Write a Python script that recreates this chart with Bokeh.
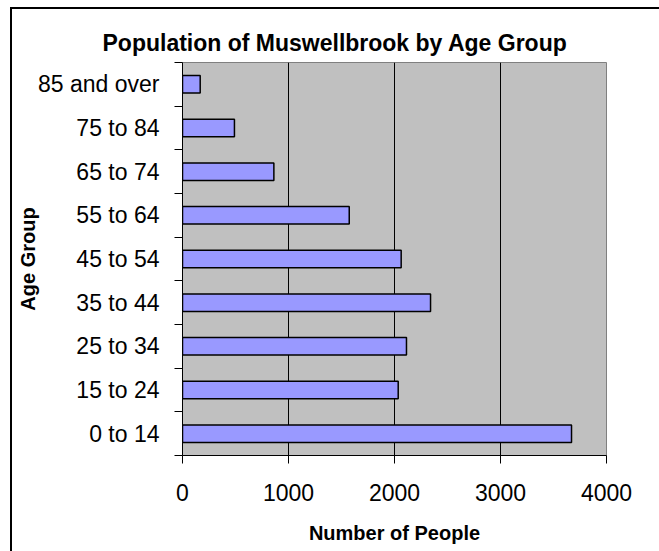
from bokeh.plotting import figure
from bokeh.models import FixedTicker, Range1d, ColumnDataSource
from bokeh.embed import file_html
from bokeh.resources import INLINE

# ---- data ----
age_groups = ["0 to 14", "15 to 24", "25 to 34", "35 to 44", "45 to 54",
              "55 to 64", "65 to 74", "75 to 84", "85 and over"]
people = [3670, 2035, 2113, 2340, 2063, 1573, 862, 490, 167]
x_ticks = [0, 1000, 2000, 3000, 4000]
title_text = "Population of Muswellbrook by Age Group"
x_title = "Number of People"
y_title = "Age Group"

FONT = "Liberation Sans"

centers = [i + 0.5 for i in range(len(age_groups))]
bounds = [float(i) for i in range(len(age_groups) + 1)]
src = ColumnDataSource(dict(y=centers, right=people, group=age_groups))

p = figure(width=659, height=551,
           x_range=Range1d(0, 4000), y_range=Range1d(0, len(age_groups)),
           output_backend="svg", toolbar_location=None,
           min_border_left=182, min_border_right=53,
           min_border_top=62, min_border_bottom=96)

p.background_fill_color = "#C0C0C0"
p.border_fill_color = "white"
p.border_fill_alpha = 0
p.outline_line_color = "#808080"
p.outline_line_width = 1

# outer chart border: left and top edges, drawn as CSS background lines
p.styles = {
    "background-color": "white",
    "background-image": "linear-gradient(black, black), linear-gradient(black, black)",
    "background-size": "2px 100%, 100% 2px",
    "background-position": "10px 7px, 10px 7px",
    "background-repeat": "no-repeat",
}

p.hbar(y="y", left=0, right="right", height=0.4, source=src,
       fill_color="#9999FF", line_color="black", line_width=1.5)

# title
p.title.text = title_text
p.title.align = "left"
p.title.offset = -80
p.title.text_font = FONT
p.title.text_font_style = "bold"
p.title.text_font_size = "23px"
p.title.text_color = "black"
p.title.standoff = 13

# x axis
xa = p.xaxis[0]
xa.ticker = FixedTicker(ticks=x_ticks)
xa.axis_line_color = "black"
xa.major_tick_line_color = "black"
xa.major_tick_out = 8
xa.major_tick_in = 0
xa.minor_tick_line_color = None
xa.major_label_text_font = FONT
xa.major_label_text_font_size = "23px"
xa.major_label_text_color = "black"
xa.major_label_standoff = 20
xa.axis_label = x_title
xa.axis_label_text_font = FONT
xa.axis_label_text_font_style = "bold"
xa.axis_label_text_font_size = "20px"
xa.axis_label_text_color = "black"
xa.axis_label_standoff = 18

# y axis: labels at category centres, ticks at category boundaries
ya = p.yaxis[0]
ya.ticker = FixedTicker(ticks=centers, minor_ticks=bounds)
ya.major_label_overrides = {c: g for c, g in zip(centers, age_groups)}
ya.axis_line_color = "black"
ya.major_tick_line_color = None
ya.major_tick_out = 0
ya.major_tick_in = 0
ya.minor_tick_line_color = "black"
ya.minor_tick_out = 8
ya.minor_tick_in = 0
ya.major_label_text_font = FONT
ya.major_label_text_font_size = "23px"
ya.major_label_text_color = "black"
ya.major_label_standoff = 15
ya.axis_label = y_title
ya.axis_label_text_font = FONT
ya.axis_label_text_font_style = "bold"
ya.axis_label_text_font_size = "20px"
ya.axis_label_text_color = "black"
ya.axis_label_standoff = -4

p.xgrid.ticker = FixedTicker(ticks=[1000, 2000, 3000])
p.xgrid.grid_line_color = "black"
p.xgrid.grid_line_width = 1
p.ygrid.visible = False

open("out.html", "w").write(file_html(p, INLINE))
